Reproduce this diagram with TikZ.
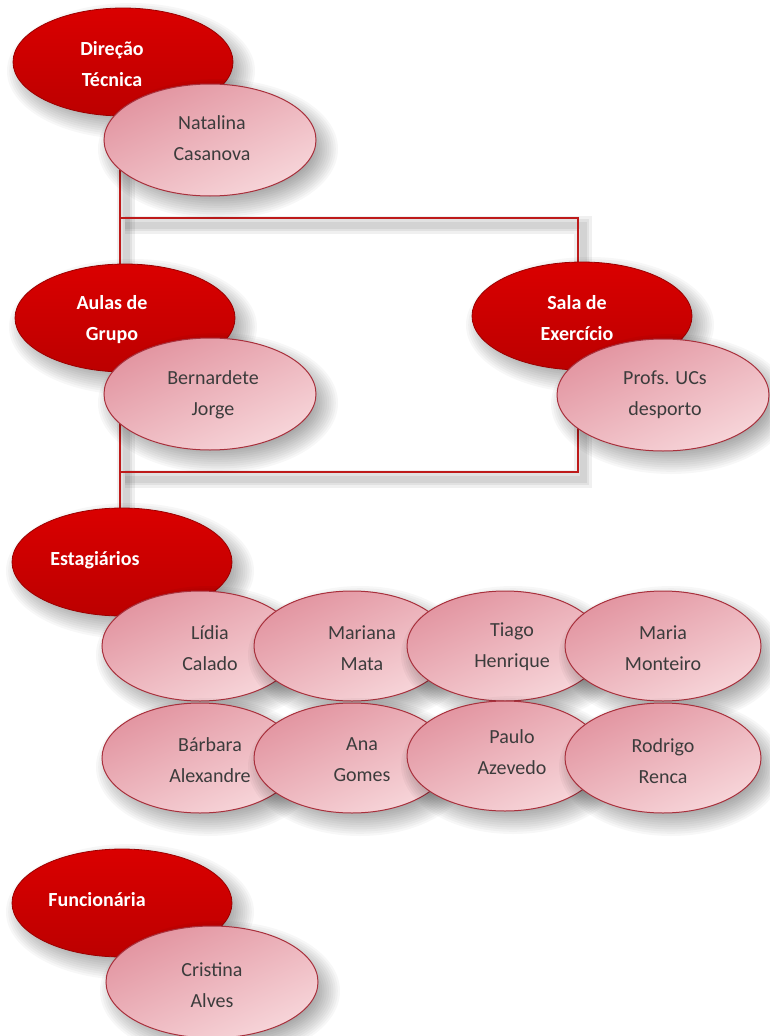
\documentclass[tikz,border=0pt]{standalone}
\usepackage{fontspec}
\setmainfont{Carlito}
\usetikzlibrary{shapes.geometric}
\definecolor{redA}{HTML}{DA0000}
\definecolor{redB}{HTML}{BC0000}
\definecolor{redD}{HTML}{9A0000}
\definecolor{pinkA}{HTML}{E294A0}
\definecolor{pinkB}{HTML}{F7D6DA}
\definecolor{pinkD}{HTML}{A8303C}
\definecolor{lineC}{HTML}{BE1A1A}
\definecolor{txtG}{HTML}{3C3C3C}
\newcommand\sshad[3]{%
  \foreach \i in {0,...,12}{%
    \pgfmathsetmacro\rxx{#2+14-2.2*\i}%
    \pgfmathsetmacro\ryy{#3+14-2.2*\i}%
    \fill[black,opacity=0.032,shift={(8,9)}] (#1) ellipse [x radius=\rxx pt, y radius=\ryy pt];
  }%
}
\tikzset{
  redE/.style={ellipse,draw=redD,line width=0.8pt,inner sep=0pt,minimum width=220pt,minimum height=108pt,top color=redA,bottom color=redB},
  pinkE/.style={ellipse,draw=pinkD,line width=1pt,inner sep=0pt,minimum width=212pt,minimum height=112pt,top color=pinkA,bottom color=pinkB,shading angle=25},
  smallE/.style={pinkE,minimum width=196pt,minimum height=110pt},
  redT/.style={text=white,font=\fontsize{20}{31}\selectfont\bfseries,align=center},
  pinkT/.style={text=txtG,font=\fontsize{20}{31}\selectfont,align=center},
  conn/.style={draw=lineC,line width=2.2pt},
  connS/.style={draw=black,line width=#1,opacity=0.06}
}
\begin{document}
\begin{tikzpicture}[x=1pt,y=-1pt]
\useasboundingbox[fill=white] (0,0) rectangle (769,1036);
% connectors
\coordinate (a) at (120,170);
\coordinate (b) at (120,218);
\coordinate (c) at (578,218);
\coordinate (d) at (578,472);
\coordinate (e) at (120,472);
\coordinate (f) at (120,540);
\foreach \w in {18,12,7}{
  \draw[connS=\w pt] ([shift={(5,7)}]b) -- ([shift={(5,7)}]c) -- ([shift={(5,7)}]d) -- ([shift={(5,7)}]e);
  \draw[connS=\w pt] ([shift={(6,0)}]a) -- ([shift={(6,0)}]f);
}
\draw[conn] (a) -- (f);
\draw[conn] (b) -- (c) -- (d) -- (e);
% Direção Técnica
\sshad{123,62}{110}{54}
\node[redE] (dir) at (123,62) {};
\node[redT] (dirT) at (112,64) {Direção\\Técnica};
\sshad{210,140}{106}{56}
\node[pinkE] (nat) at (210,140) {};
\node[pinkT] (natT) at (212,138) {Natalina\\Casanova};
% Aulas de Grupo
\sshad{125,318}{110}{54}
\node[redE] (aul) at (125,318) {};
\node[redT] (aulT) at (112,320) {Aulas de\\Grupo};
\sshad{210,394}{106}{56}
\node[pinkE] (ber) at (210,394) {};
\node[pinkT] (berT) at (213,395) {Bernardete\\Jorge};
% Sala de Exercício
\sshad{582,316}{110}{54}
\node[redE] (sal) at (582,316) {};
\node[redT] (salT) at (577,318) {Sala de\\Exercício};
\sshad{663,395}{106}{56}
\node[pinkE] (pro) at (663,395) {};
\node[pinkT] (proT) at (665,395) {Profs. UCs\\desporto};
% Estagiários
\sshad{122,562}{110}{54}
\node[redE] (est) at (122,562) {};
\node[redT] (estT) at (95,560) {Estagiários};
\sshad{200,646}{98}{55}
\node[smallE] (li) at (200,646) {};
\node[pinkT] (liT) at (210,648) {Lídia\\Calado};
\sshad{352,646}{98}{55}
\node[smallE] (ma) at (352,646) {};
\node[pinkT] (maT) at (362,648) {Mariana\\Mata};
\sshad{505,646}{98}{55}
\node[smallE] (ti) at (505,646) {};
\node[pinkT] (tiT) at (512,647) {Tiago\\Henrique};
\sshad{663,646}{98}{55}
\node[smallE] (mm) at (663,646) {};
\node[pinkT] (mmT) at (663,648) {Maria\\Monteiro};
\sshad{200,758}{98}{55}
\node[smallE] (ba) at (200,758) {};
\node[pinkT] (baT) at (210,760) {Bárbara\\Alexandre};
\sshad{352,758}{98}{55}
\node[smallE] (an) at (352,758) {};
\node[pinkT] (anT) at (362,760) {Ana\\Gomes};
\sshad{505,756}{98}{55}
\node[smallE] (pa) at (505,756) {};
\node[pinkT] (paT) at (512,752) {Paulo\\Azevedo};
\sshad{663,758}{98}{55}
\node[smallE] (ro) at (663,758) {};
\node[pinkT] (roT) at (663,761) {Rodrigo\\Renca};
% Funcionária
\sshad{122,903}{110}{54}
\node[redE] (fun) at (122,903) {};
\node[redT] (funT) at (97,900) {Funcionária};
\sshad{212,982}{106}{56}
\node[pinkE] (cri) at (212,982) {};
\node[pinkT] (criT) at (212,985) {Cristina\\Alves};
\end{tikzpicture}
\end{document}
